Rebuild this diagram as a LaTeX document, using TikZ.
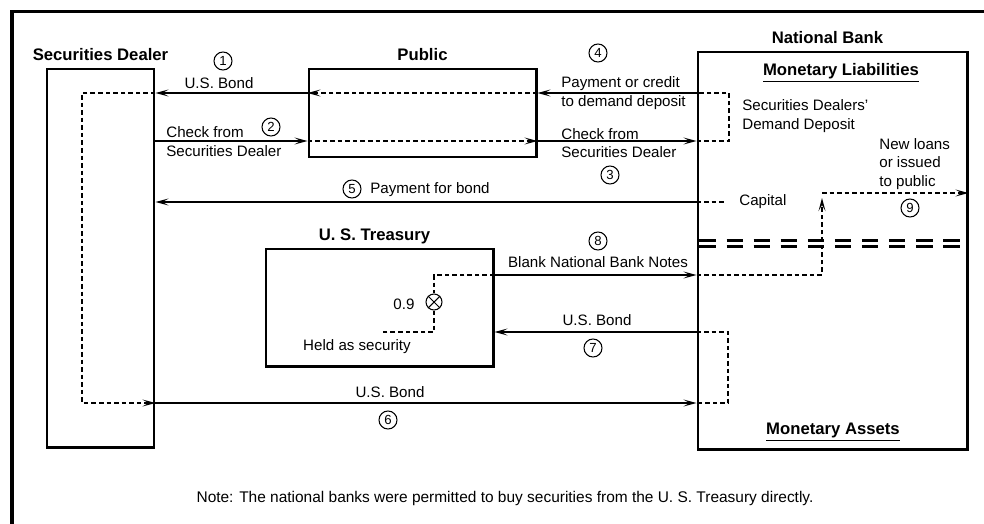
\documentclass[tikz,border=0pt]{standalone}
\usepackage{fontspec}
\setmainfont{Liberation Sans}
\usetikzlibrary{positioning,arrows.meta}
\tikzset{
  box/.style={draw, line width=1.7pt, inner sep=0pt},
  title/.style={font=\fontsize{9.5}{11}\selectfont\bfseries, inner sep=0pt, text height=7pt, text depth=2pt},
  lbl/.style={font=\fontsize{8.6}{10.5}\selectfont, align=left, inner sep=0pt},
  num/.style={draw, circle, line width=0.6pt, minimum size=3.6mm, inner sep=0pt, font=\fontsize{7.5}{8}\selectfont},
  flow/.style={-{Stealth[length=7.5pt,width=4pt,inset=3.5pt]}, line width=0.6pt},
  dash line/.style={line width=0.6pt, dash pattern=on 2.6pt off 1.7pt},
  dflow/.style={flow, dash line}
}
\begin{document}
\begin{tikzpicture}[x=0.2mm, y=-0.2mm]
  \useasboundingbox (0,0) rectangle (984,523);
  \clip (0,0) rectangle (984,523);
  % outer frame, cut at the page edge
  \draw[line width=2.1pt] (12,540) -- (12,11.5) -- (1000,11.5);

  % rows of the flows
  \coordinate (r1) at (0,93);
  \coordinate (r2) at (0,141);
  \coordinate (r9) at (0,193);
  \coordinate (r9b) at (0,198);
  \coordinate (r5) at (0,202);
  \coordinate (rd1) at (0,240.5);
  \coordinate (rd2) at (0,246.5);
  \coordinate (r8) at (0,275);
  \coordinate (r7) at (0,332);
  \coordinate (r6) at (0,403);
  % columns of the dashed routes
  \coordinate (dx) at (82,0);
  \coordinate (bx1) at (729,0);
  \coordinate (bx2) at (822,0);
  \coordinate (bx3) at (728,0);
  \coordinate (capend) at (724,202);
  \coordinate (heldend) at (383,332);

  % the four parties
  \node[box, minimum width=21.4mm, minimum height=75.6mm] (dealer) at (100.5,258) {};
  \node[box, minimum width=45.4mm, minimum height=17.6mm] (public) at (422.5,113) {};
  \node[box, minimum width=45.4mm, minimum height=23.4mm] (treasury) at (379.5,307.5) {};
  \node[box, minimum width=53.8mm, minimum height=79.4mm] (bank) at (832.5,250.5) {};

  \node[title, above=2pt of dealer] (tdealer) {Securities Dealer};
  \node[title, above=2pt of public] (tpublic) {Public};
  \node[title, above=2pt of treasury, xshift=-1mm] (ttreasury) {U. S. Treasury};
  \node[title, above=2pt of bank, xshift=-1mm] (tbank) {National Bank};
  \node[title] (liab) at (841,71) {\underline{Monetary Liabilities}};
  \node[title] (assets) at (833,430) {\underline{Monetary Assets}};

  % 1, 2: bond against check
  \draw[dflow] (dealer.east |- r1) -| (dx |- r6) -- (dealer.east |- r6);
  \draw[flow] (public.west |- r1) -- (dealer.east |- r1);
  \draw[dflow] (public.east |- r1) -- (public.west |- r1);
  \draw[flow] (dealer.east |- r2) -- (public.west |- r2);
  \draw[dflow] (public.west |- r2) -- (public.east |- r2);
  % 3, 4: check cleared at the bank
  \draw[flow] (public.east |- r2) -- (bank.west |- r2);
  \draw[dash line] (bank.west |- r2) -| (bx1 |- r1) -- (bank.west |- r1);
  \draw[flow] (bank.west |- r1) -- (public.east |- r1);
  % 5
  \draw[flow] (bank.west |- r5) -- (dealer.east |- r5);
  \draw[dash line] (bank.west |- r5) -- (capend);
  % 6, 7
  \draw[flow] (dealer.east |- r6) -- (bank.west |- r6);
  \draw[dash line] (bank.west |- r7) -| (bx3 |- r6) -- (bank.west |- r6);
  \draw[flow] (bank.west |- r7) -- (treasury.east |- r7);
  % 8, 9: notes
  \node[draw, circle, line width=0.6pt, minimum size=3.2mm, inner sep=0pt] (times) at (434,302) {};
  \draw[line width=0.6pt] (times.north west) -- (times.south east) (times.north east) -- (times.south west);
  \draw[dash line] (treasury.east |- r8) -| (times);
  \draw[dash line] (times) -- (times |- r7) -- (heldend);
  \draw[flow] (treasury.east |- r8) -- (bank.west |- r8);
  \draw[dflow] (bank.west |- r8) -| (bx2 |- r9b);
  \draw[dflow] (bx2 |- r9) -- (bank.east |- r9);

  % double line between liabilities and assets
  \draw[line width=1.7pt, dash pattern=on 9.4pt off 6pt] ([xshift=1.7pt]bank.west |- rd1) -- (bank.east |- rd1);
  \draw[line width=1.7pt, dash pattern=on 9.4pt off 6pt] ([xshift=1.7pt]bank.west |- rd2) -- (bank.east |- rd2);

  % labels
  \node[lbl] (l1) at (219,83) {U.S. Bond};
  \node[num] (n1) at (223,61) {1};
  \node[lbl, anchor=west] (l2) at (166,141.5) {Check from\\Securities Dealer};
  \node[num] (n2) at (271,127) {2};
  \node[lbl, anchor=west] (l3) at (561,143) {Check from\\Securities Dealer};
  \node[num] (n3) at (610,175) {3};
  \node[lbl, anchor=west] (l4) at (561,93) {Payment or credit\\to demand deposit};
  \node[num] (n4) at (598,53) {4};
  \node[num] (n5) at (352,189) {5};
  \node[lbl, anchor=west] (l5) at (370,190) {Payment for bond};
  \node[lbl] (l6) at (390,392) {U.S. Bond};
  \node[num] (n6) at (388,420) {6};
  \node[lbl] (l7) at (597,320) {U.S. Bond};
  \node[num] (n7) at (593,348) {7};
  \node[lbl] (l8) at (598,262) {Blank National Bank Notes};
  \node[num] (n8) at (598,241) {8};
  \node[lbl, anchor=west] (l9) at (879,164) {New loans\\or issued\\to public};
  \node[num] (n9) at (910,208) {9};
  \node[lbl, anchor=west] (deposit) at (742,116) {Securities Dealers'\\Demand Deposit};
  \node[lbl, anchor=west] (capital) at (739,202) {Capital};
  \node[lbl] (ratio) at (404,304) {0.9};
  \node[lbl] (held) at (357,347) {Held as security};
  \node[lbl, font=\fontsize{8.8}{10.5}\selectfont] (note) at (505,498) {Note: The national banks were permitted to buy securities from the U. S. Treasury directly.};
\end{tikzpicture}
\end{document}
